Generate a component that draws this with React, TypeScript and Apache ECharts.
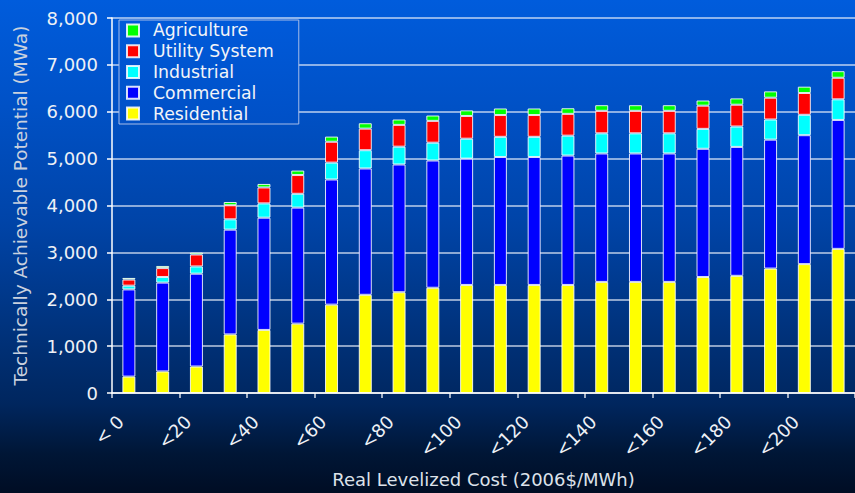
import React, { useEffect, useRef } from "react";
import * as echarts from "echarts";

const categories = ["< 0", "<10", "<20", "<30", "<40", "<50", "<60", "<70", "<80", "<90", "<100", "<110", "<120", "<130", "<140", "<150", "<160", "<170", "<180", "<190", "<200", "<210"];
const residential = [350, 460, 565, 1250, 1345, 1480, 1885, 2095, 2150, 2245, 2305, 2305, 2305, 2305, 2370, 2370, 2370, 2475, 2500, 2655, 2750, 3075];
const commercial = [1860, 1895, 1980, 2235, 2395, 2475, 2670, 2695, 2725, 2715, 2695, 2730, 2730, 2760, 2740, 2740, 2740, 2735, 2750, 2750, 2750, 2750];
const industrial = [80, 120, 155, 220, 305, 295, 360, 390, 380, 380, 425, 430, 430, 425, 430, 430, 430, 425, 435, 430, 435, 440];
const utility = [130, 190, 255, 300, 340, 400, 445, 460, 465, 465, 485, 465, 465, 465, 480, 480, 480, 495, 465, 465, 465, 460];
const agriculture = [35, 45, 40, 70, 75, 95, 110, 115, 115, 115, 120, 140, 140, 120, 120, 120, 120, 110, 135, 135, 135, 140];

const legendOrder = ["Agriculture", "Utility System", "Industrial", "Commercial", "Residential"];
const yTicks = { min: 0, max: 8000, interval: 1000 };

const seriesDefs = [
  { name: "Residential", data: residential, color: "#ffff00" },
  { name: "Commercial", data: commercial, color: "#0000ff" },
  { name: "Industrial", data: industrial, color: "#00ffff" },
  { name: "Utility System", data: utility, color: "#ff0000" },
  { name: "Agriculture", data: agriculture, color: "#00ff00" },
];

const FONT = "DejaVu Sans";

export default function App() {
  const ref = useRef<HTMLDivElement>(null);
  useEffect(() => {
    const chart = echarts.init(ref.current!, null, { renderer: "svg" });
    chart.setOption({
      animation: false,
      backgroundColor: "transparent",
      textStyle: { fontFamily: FONT },
      grid: { left: 112, right: -9, top: 18, bottom: 97, containLabel: false },
      legend: {
        data: legendOrder,
        orient: "vertical",
        left: 119,
        top: 20,
        padding: [0, 25, 0, 7],
        itemWidth: 12,
        itemHeight: 12,
        itemGap: 0,
        icon: "rect",
        borderColor: "#a6bce8",
        borderWidth: 1,
        backgroundColor: new echarts.graphic.LinearGradient(0, 0, 0, 1, [
          { offset: 0, color: "#005ada" },
          { offset: 1, color: "#0050c6" },
        ]),
        textStyle: { color: "#f2f4f8", fontSize: 17.3, fontFamily: FONT, lineHeight: 20.8, padding: [0, 0, 0, 9] },
      },
      xAxis: {
        type: "category",
        data: categories,
        name: "Real Levelized Cost (2006$/MWh)",
        nameLocation: "middle",
        nameGap: 77,
        nameTextStyle: { color: "#dde2ea", fontSize: 18, fontFamily: FONT },
        axisLine: { show: true, lineStyle: { color: "#ffffff", width: 1.5 } },
        axisTick: { show: true, length: 5, lineStyle: { color: "rgba(255,255,255,0.85)", width: 1.5 } },
        axisLabel: {
          interval: 1,
          rotate: 45,
          color: "#eef1f6",
          fontSize: 18,
          fontFamily: FONT,
          margin: 17,
          padding: [0, 12, 0, 0],
        },
        splitLine: { show: false },
      },
      yAxis: {
        type: "value",
        min: yTicks.min,
        max: yTicks.max,
        interval: yTicks.interval,
        name: "Technically Achievable Potential (MWa)",
        nameLocation: "middle",
        nameGap: 82,
        nameTextStyle: { color: "#c9d1de", fontSize: 18.5, fontFamily: FONT },
        axisLine: { show: true, lineStyle: { color: "#ffffff", width: 1.5 } },
        axisTick: { show: true, length: 5, lineStyle: { color: "#ffffff", width: 1.5 } },
        axisLabel: {
          color: "#eef1f6",
          fontSize: 18,
          fontFamily: FONT,
          margin: 14,
          formatter: (v: number) => v.toLocaleString("en-US"),
        },
        splitLine: { show: true, lineStyle: { color: "rgba(235,240,250,0.8)", width: 1.5 } },
      },
      series: seriesDefs.map((s) => ({
        name: s.name,
        type: "bar",
        stack: "total",
        data: s.data,
        barWidth: 13,
        itemStyle: { color: s.color, borderColor: "rgba(255,255,255,0.85)", borderWidth: 1 },
        emphasis: { disabled: true },
      })),
    });
    return () => chart.dispose();
  }, []);
  return (
    <div
      ref={ref}
      style={{
        position: "fixed",
        left: 0,
        top: 0,
        width: 855,
        height: 493,
        background:
          "linear-gradient(to bottom, #005cdc 0%, #0052c8 20%, #0044a8 45%, #003480 65%, #00265e 82%, #001636 92%, #000d24 100%)",
      }}
    />
  );
}
